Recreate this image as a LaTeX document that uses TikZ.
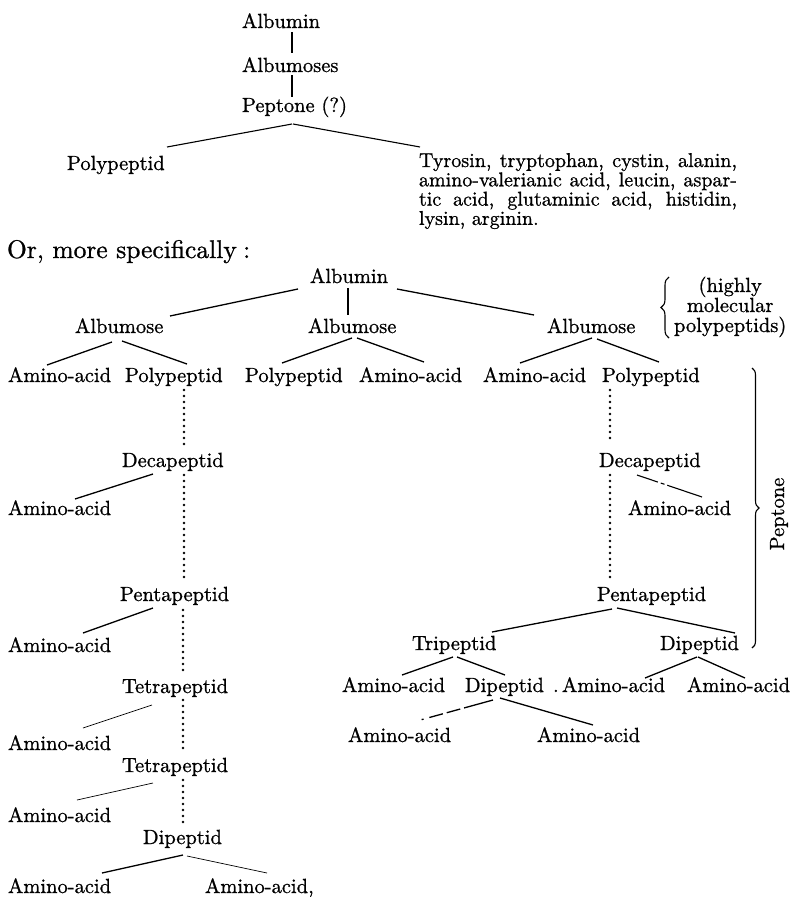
\documentclass[tikz,border=0pt]{standalone}
\usepackage{fontspec}
\setmainfont{lmroman10-regular.otf}[FakeBold=0.9]
\usetikzlibrary{decorations.pathreplacing}
\begin{document}
\begin{tikzpicture}[x=1pt,y=-1pt,
  lbl/.style={anchor=base west, inner sep=0pt, outer sep=0pt, font=\fontsize{20.5}{20}\selectfont},
  ln/.style={line width=1.3pt},
  mid/.style={line width=1.1pt},
  thinln/.style={line width=0.7pt},
  dots/.style={line width=2.8pt, line cap=round, dash pattern=on 0pt off 6pt},
  brc/.style={decorate, line width=1.1pt}]
\useasboundingbox (0,0) rectangle (792,897);
% ---------- first scheme ----------
\node[lbl] (t1) at (242,28) {Albumin};
\node[lbl] (t2) at (242,72) {Albumoses};
\node[lbl] (t3) at (242,112) {Peptone (?)};
\node[lbl] (t4) at (67,170) {Polypeptid};
\node[lbl] (t5) at (419,167) {\fontsize{20}{19.3}\selectfont\vtop{\baselineskip=19.3pt\lineskiplimit=-30pt
  \hbox{\makebox[318pt][s]{Tyrosin, tryptophan, cystin, alanin,}}
  \hbox{\makebox[318pt][s]{amino-valerianic acid, leucin, aspar-}}
  \hbox{\makebox[318pt][s]{tic acid, glutaminic acid, histidin,}}
  \hbox{lysin, arginin.}}};
\draw[mid] ([shift={(50,4)}]t1.base west) -- ([shift={(50,-19)}]t2.base west);
\draw[mid] ([shift={(50,3)}]t2.base west) -- ([shift={(50,-15)}]t3.base west);
\draw[mid] ([shift={(50,12)}]t3.base west) -- ([shift={(100,-23)}]t4.base west);
\draw[mid] ([shift={(51,12)}]t3.base west) -- ([shift={(1,-20)}]t5.base west);
% ---------- heading ----------
\node[lbl, font=\fontsize{25.5}{28}\selectfont] (or) at (7,258) {Or, more specifically\hspace{0.25em}:};
% ---------- second scheme ----------
\node[lbl] (a0) at (310,283) {Albumin};
\node[lbl] (am1) at (75,333) {Albumose};
\node[lbl] (am2) at (308,333) {Albumose};
\node[lbl] (am3) at (547,333) {Albumose};
\node[lbl] (hm) at (674,292) {\vtop{\baselineskip=20pt\lineskiplimit=-30pt\halign{\hfil#\hfil\cr (highly\cr molecular\cr polypeptids)\cr}}};
\coordinate (hb1) at (669,338);
\coordinate (hb2) at (669,277);
\draw[brc, decoration={brace, amplitude=8pt}] (hb1) -- (hb2);

\node[lbl] (r1) at (8,382) {Amino-acid};
\node[lbl] (r2) at (125,382) {Polypeptid};
\node[lbl] (r3) at (245,382) {Polypeptid};
\node[lbl] (r4) at (359,382) {Amino-acid};
\node[lbl] (r5) at (483,382) {Amino-acid};
\node[lbl] (r6) at (602,382) {Polypeptid};

\draw[ln] ([shift={(-12,6)}]a0.base west) -- ([shift={(95,-17)}]am1.base west);
\draw[ln] ([shift={(38,5)}]a0.base west) -- ([shift={(40,-18)}]am2.base west);
\draw[ln] ([shift={(87,6)}]a0.base west) -- ([shift={(-13,-18)}]am3.base west);
\draw[ln] ([shift={(37,9)}]am1.base west) -- ([shift={(39,-17)}]r1.base west);
\draw[ln] ([shift={(47,8)}]am1.base west) -- ([shift={(62,-18)}]r2.base west);
\draw[ln] ([shift={(44,5)}]am2.base west) -- ([shift={(37,-19)}]r3.base west);
\draw[ln] ([shift={(49,5)}]am2.base west) -- ([shift={(65,-20)}]r4.base west);
\draw[ln] ([shift={(45,5)}]am3.base west) -- ([shift={(37,-19)}]r5.base west);
\draw[ln] ([shift={(50,6)}]am3.base west) -- ([shift={(57,-20)}]r6.base west);

% left column
\node[lbl] (l1) at (122,467) {Decapeptid};
\node[lbl] (l2) at (8,515) {Amino-acid};
\node[lbl] (l3) at (120,601) {Pentapeptid};
\node[lbl] (l4) at (8,652) {Amino-acid};
\node[lbl] (l5) at (122,693) {Tetrapeptid};
\node[lbl] (l6) at (8,750) {Amino-acid};
\node[lbl] (l7) at (122,772) {Tetrapeptid};
\node[lbl] (l8) at (8,822) {Amino-acid};
\node[lbl] (l9) at (143,844) {Dipeptid};
\node[lbl] (l10) at (8,893) {Amino-acid};
\node[lbl] (l11) at (205,893) {Amino-acid,};

\draw[dots] ([shift={(59,8)}]r2.base west) -- ([shift={(62,-20)}]l1.base west);
\draw[dots] ([shift={(62,8)}]l1.base west) -- ([shift={(64,-21)}]l3.base west);
\draw[dots] ([shift={(63,9)}]l3.base west) -- ([shift={(61,-20)}]l5.base west);
\draw[dots] ([shift={(61,7)}]l5.base west) -- ([shift={(61,-20)}]l7.base west);
\draw[dots] ([shift={(61,8)}]l7.base west) -- ([shift={(40,-21)}]l9.base west);

\draw[ln] ([shift={(31,7)}]l1.base west) -- ([shift={(67,-16)}]l2.base west);
\draw[ln] ([shift={(33,7)}]l3.base west) -- ([shift={(75,-19)}]l4.base west);
\draw[thinln] ([shift={(30,12)}]l5.base west) -- ([shift={(75,-22)}]l6.base west);
\draw[thinln] ([shift={(31,11)}]l7.base west) -- ([shift={(69,-22)}]l8.base west);
\draw[ln] ([shift={(40,11)}]l9.base west) -- ([shift={(94,-20)}]l10.base west);
\draw[thinln] ([shift={(44,12)}]l9.base west) -- ([shift={(62,-20)}]l11.base west);

% right column
\node[lbl] (q1) at (599,467) {Decapeptid};
\node[lbl] (q2) at (628,515) {Amino-acid};
\node[lbl] (q3) at (597,601) {Pentapeptid};
\node[lbl] (q4) at (412,650) {Tripeptid};
\node[lbl] (q5) at (660,650) {Dipeptid};
\node[lbl] (q6) at (342,692) {Amino-acid};
\node[lbl] (q7) at (465,692) {Dipeptid};
\node[lbl] (q7d) at (553,692) {.};
\node[lbl] (q8) at (562,692) {Amino-acid};
\node[lbl] (q9) at (687,692) {Amino-acid};
\node[lbl] (q10) at (348,742) {Amino-acid};
\node[lbl] (q11) at (537,742) {Amino-acid};

\draw[dots] ([shift={(8,8)}]r6.base west) -- ([shift={(11,-24)}]q1.base west);
\draw[dots] ([shift={(11,8)}]q1.base west) -- ([shift={(13,-19)}]q3.base west);

\draw[mid, dash pattern=on 22pt off 3pt on 4pt off 3pt on 40pt] ([shift={(38,8)}]q1.base west) -- ([shift={(74,-18)}]q2.base west);
\draw[ln] ([shift={(15,8)}]q3.base west) -- ([shift={(80,-18)}]q4.base west);
\draw[ln] ([shift={(20,7)}]q3.base west) -- ([shift={(75,-17)}]q5.base west);
\draw[ln] ([shift={(41,7)}]q4.base west) -- ([shift={(60,-17)}]q6.base west);
\draw[ln] ([shift={(45,7)}]q4.base west) -- ([shift={(40,-17)}]q7.base west);
\draw[ln] ([shift={(37,7)}]q5.base west) -- ([shift={(83,-14)}]q8.base west);
\draw[ln] ([shift={(38,7)}]q5.base west) -- ([shift={(58,-14)}]q9.base west);
\draw[ln, dash pattern=on 30pt off 4pt on 14pt off 4pt on 14pt off 6pt on 2pt off 10pt] ([shift={(28,8)}]q7.base west) -- ([shift={(65,-20)}]q10.base west);
\draw[ln] ([shift={(35,6)}]q7.base west) -- ([shift={(56,-17)}]q11.base west);

% Peptone brace
\coordinate (pb1) at (752,368);
\coordinate (pb2) at (752,648);
\draw[brc, decoration={brace, amplitude=7pt}] (pb1) -- (pb2);
\node[rotate=90, inner sep=0pt, font=\fontsize{20.5}{20}\selectfont] (pep) at (779,514) {Peptone};
\end{tikzpicture}
\end{document}
